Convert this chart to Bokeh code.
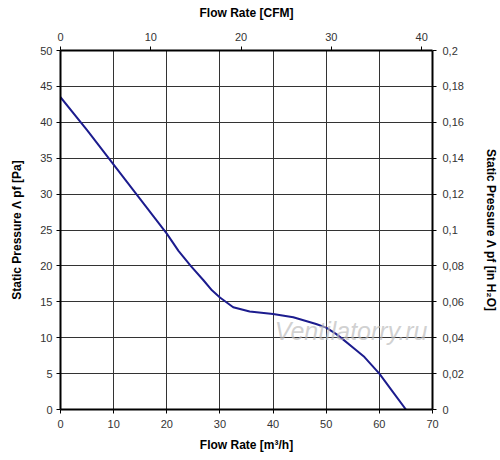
from bokeh.plotting import figure
from bokeh.models import Range1d, LinearAxis, FixedTicker, CustomJSTickFormatter, Label, Grid
from bokeh.embed import file_html
from bokeh.resources import INLINE

# Data
flow_m3h = [0, 5, 10, 15, 20, 22.2, 24.5, 26.9, 28.5, 30, 32.5, 35.6, 40, 43.8, 48.1, 50, 51.9, 53.1, 55.6, 57.2, 60, 62.5, 65]
pressure_pa = [43.5, 38.9, 34.1, 29.3, 24.5, 22.1, 20.0, 18.0, 16.6, 15.6, 14.25, 13.65, 13.3, 12.85, 11.9, 11.4, 10.5, 9.8, 8.3, 7.3, 5.0, 2.5, 0]

x_ticks = [0, 10, 20, 30, 40, 50, 60, 70]
y_ticks = [0, 5, 10, 15, 20, 25, 30, 35, 40, 45, 50]
cfm_ticks = [0, 10, 20, 30, 40]
inh2o_ticks = [0, 0.02, 0.04, 0.06, 0.08, 0.1, 0.12, 0.14, 0.16, 0.18, 0.2]

FONT = "Liberation Sans"

p = figure(width=500, height=460, output_backend="svg", toolbar_location=None,
           x_range=Range1d(0, 70), y_range=Range1d(0, 50),
           x_axis_location=None, y_axis_location=None,
           min_border_left=60, min_border_right=67, min_border_top=50, min_border_bottom=51)
p.outline_line_color = None
p.background_fill_color = "white"
p.border_fill_color = "white"

p.extra_x_ranges = {"cfm": Range1d(0, 70 / 1.699)}
p.extra_y_ranges = {"inh2o": Range1d(0, 0.2)}

def style(ax, label):
    ax.axis_label = label
    ax.axis_label_text_font = FONT
    ax.axis_label_text_font_style = "bold"
    ax.axis_label_text_font_size = "12px"
    ax.axis_label_text_color = "black"
    ax.major_label_text_font = FONT
    ax.major_label_text_font_size = "11px"
    ax.major_label_text_color = "#333333"
    ax.axis_line_width = 2
    ax.axis_line_color = "black"
    ax.major_tick_line_color = "black"
    ax.major_tick_line_width = 1
    ax.major_tick_out = 4
    ax.major_tick_in = 0
    ax.minor_tick_line_color = None
    ax.major_label_standoff = 6
    ax.axis_label_standoff = 8

bottom = LinearAxis(ticker=FixedTicker(ticks=x_ticks))
style(bottom, "Flow Rate [m³/h]")
bottom.axis_label_standoff = 7
p.add_layout(bottom, "below")

left = LinearAxis(ticker=FixedTicker(ticks=y_ticks))
style(left, "Static Pressure Λ pf [Pa]")
left.major_label_standoff = 4
left.axis_label_standoff = 13
p.add_layout(left, "left")

top = LinearAxis(x_range_name="cfm", ticker=FixedTicker(ticks=cfm_ticks))
style(top, "Flow Rate [CFM]")
top.major_label_standoff = 6
top.axis_label_standoff = 10
p.add_layout(top, "above")

right = LinearAxis(y_range_name="inh2o", ticker=FixedTicker(ticks=inh2o_ticks))
style(right, "Static Pressure Λ pf [in H₂O]")
right.formatter = CustomJSTickFormatter(code="""
    let s = tick.toFixed(2).replace(/0+$/, '').replace(/\\.$/, '');
    return s.replace('.', ',');
""")
right.major_label_standoff = 6
right.axis_label_standoff = 17
p.add_layout(right, "right")

p.xgrid.visible = False
p.ygrid.visible = False
p.add_layout(Grid(dimension=0, ticker=FixedTicker(ticks=x_ticks), grid_line_color="#333333", grid_line_width=1))
p.add_layout(Grid(dimension=1, ticker=FixedTicker(ticks=y_ticks), grid_line_color="#333333", grid_line_width=1))

p.line(flow_m3h, pressure_pa, line_color="#1c1c8e", line_width=2)

wm = Label(x=40.3, y=11.0, text="Ventilatorry.ru", text_font=FONT, text_font_style="italic",
           text_font_size="25px", text_color="#bdbdbd", text_alpha=0.7, text_baseline="middle")
p.add_layout(wm)

open("out.html", "w").write(file_html(p, INLINE))
